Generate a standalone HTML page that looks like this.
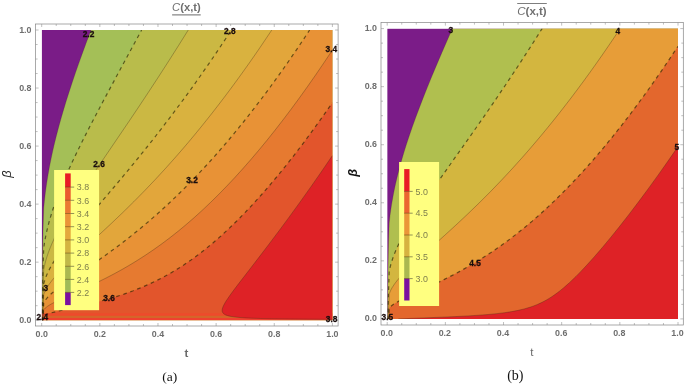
<!DOCTYPE html>
<html><head><meta charset="utf-8"><title>Contour plots</title>
<style>
html,body{margin:0;padding:0;background:#fff;}
body{width:685px;height:384px;overflow:hidden;font-family:"Liberation Sans",sans-serif;}
svg{display:block;font-family:"Liberation Sans",sans-serif;opacity:0.999;will-change:transform;}
.ser{font-family:"Liberation Serif",serif;}
</style></head><body>
<svg width="685" height="384" viewBox="0 0 685 384">
<rect width="685" height="384" fill="#fff"/>
<clipPath id="clipL"><rect x="41.70" y="30.00" width="290.70" height="290.20"/></clipPath>
<g clip-path="url(#clipL)">
<rect x="41.70" y="30.00" width="290.70" height="290.20" fill="#7a1c87"/>
<path d="M332.40,320.20 L41.70,320.20 L41.70,320.02 L41.90,320.00 L42.18,281.50 L42.62,249.50 L43.10,227.50 L43.70,208.21 L44.45,200.53 L45.45,192.03 L46.70,183.06 L47.95,175.23 L49.45,166.86 L50.95,159.27 L52.70,151.12 L54.45,143.56 L56.45,135.46 L58.70,126.88 L60.95,118.75 L63.45,110.14 L66.20,101.09 L68.95,92.38 L72.10,82.75 L75.45,72.87 L78.95,62.85 L82.70,52.40 L86.70,41.53 L91.04,30.00 L332.40,30.00 L332.40,320.20 Z" fill="#a4bf57"/>
<path d="M332.40,320.20 L41.70,320.20 L41.70,320.04 L42.13,320.00 L42.39,299.50 L42.74,280.75 L43.17,263.75 L43.70,248.21 L44.45,243.14 L45.20,238.82 L46.20,233.79 L47.45,228.29 L48.95,222.44 L50.45,217.15 L52.20,211.49 L53.95,206.22 L56.20,199.89 L58.95,192.65 L61.70,185.82 L64.95,178.15 L68.45,170.26 L72.20,162.12 L76.45,153.21 L80.95,144.05 L85.45,135.10 L90.45,125.35 L102.20,102.99 L115.70,77.85 L141.65,30.00 L332.40,30.00 L332.40,320.20 Z" fill="#b9bc4b"/>
<path d="M332.40,320.20 L41.70,320.20 L41.70,320.07 L42.36,320.00 L42.91,293.25 L43.28,281.00 L43.70,269.58 L44.70,264.87 L45.70,260.98 L46.95,256.78 L48.45,252.37 L50.20,247.78 L52.20,243.02 L54.45,238.09 L56.70,233.50 L60.95,225.44 L66.20,216.21 L72.20,206.30 L79.45,194.88 L85.45,185.71 L92.70,174.84 L128.72,121.75 L138.80,106.75 L148.09,92.75 L158.41,77.00 L168.57,61.25 L178.41,45.75 L188.25,30.00 L332.40,30.00 L332.40,320.20 Z" fill="#cbb843"/>
<path d="M332.40,320.20 L41.70,320.20 L41.70,320.09 L42.59,320.00 L43.07,301.00 L43.70,283.85 L44.45,281.20 L45.45,278.23 L46.70,275.06 L47.95,272.27 L49.45,269.24 L51.20,266.02 L53.20,262.63 L55.45,259.07 L58.95,253.91 L62.95,248.39 L67.70,242.19 L72.95,235.62 L83.20,223.27 L113.47,187.75 L129.79,168.25 L138.60,157.50 L147.25,146.75 L155.54,136.25 L163.69,125.75 L172.43,114.25 L181.00,102.75 L189.58,91.00 L197.98,79.25 L206.39,67.25 L214.80,55.00 L223.21,42.50 L231.46,30.00 L332.40,30.00 L332.40,320.20 Z" fill="#d9b23f"/>
<path d="M332.40,320.20 L41.70,320.20 L41.70,320.11 L42.81,320.00 L43.22,306.75 L43.70,294.42 L44.45,292.51 L45.20,290.87 L46.95,287.65 L49.20,284.19 L51.95,280.53 L54.95,276.94 L58.45,273.08 L62.70,268.69 L67.45,264.02 L76.70,255.32 L98.90,235.00 L110.47,224.25 L122.54,212.75 L133.74,201.75 L144.57,190.75 L155.06,179.75 L165.66,168.25 L175.92,156.75 L182.01,149.75 L188.19,142.50 L194.25,135.25 L200.20,128.00 L206.24,120.50 L212.18,113.00 L218.20,105.25 L224.12,97.50 L230.12,89.50 L236.20,81.25 L242.17,73.00 L248.05,64.75 L254.00,56.25 L259.95,47.61 L271.80,30.00 L332.40,30.00 L332.40,320.20 Z" fill="#e2a63b"/>
<path d="M332.40,320.20 L41.70,320.20 L41.70,320.13 L43.04,320.00 L43.70,302.75 L44.70,301.05 L46.20,299.00 L47.95,296.98 L50.20,294.73 L52.70,292.49 L55.70,290.02 L59.20,287.32 L63.20,284.40 L70.70,279.16 L87.87,267.50 L96.23,261.75 L104.75,255.75 L112.69,250.00 L119.74,244.75 L126.58,239.50 L133.23,234.25 L140.00,228.75 L148.33,221.75 L156.37,214.75 L164.40,207.50 L172.43,200.00 L180.44,192.25 L188.45,184.25 L196.43,176.00 L204.40,167.50 L211.01,160.25 L217.68,152.75 L224.18,145.25 L230.74,137.50 L237.36,129.50 L243.83,121.50 L250.36,113.25 L256.95,104.73 L263.57,96.00 L270.06,87.25 L276.60,78.25 L283.20,68.98 L289.82,59.50 L296.45,49.82 L303.05,40.00 L309.65,30.00 L332.40,30.00 L332.40,320.20 Z" fill="#e89236"/>
<path d="M332.40,320.20 L41.70,320.20 L41.70,320.16 L42.70,320.11 L43.27,320.00 L43.70,309.61 L45.20,308.11 L47.45,306.38 L49.45,305.08 L51.95,303.63 L54.70,302.17 L58.20,300.43 L64.70,297.38 L81.06,290.00 L89.75,286.00 L98.12,282.00 L106.14,278.00 L114.27,273.75 L122.00,269.50 L129.36,265.25 L136.78,260.75 L145.38,255.25 L153.70,249.62 L161.92,243.75 L170.20,237.52 L178.44,231.00 L186.56,224.25 L194.61,217.25 L202.70,209.89 L210.70,202.30 L218.60,194.50 L226.64,186.25 L234.63,177.75 L242.70,168.86 L250.69,159.75 L258.76,150.25 L266.80,140.50 L274.95,130.30 L283.14,119.75 L291.26,109.00 L299.45,97.86 L307.70,86.34 L315.95,74.51 L324.20,62.39 L332.40,50.05 L332.40,320.20 Z" fill="#e67a30"/>
<path d="M332.40,320.20 L41.70,320.18 L42.95,320.14 L43.49,320.00 L43.70,315.42 L45.20,314.73 L47.20,314.01 L50.95,312.92 L56.20,311.61 L78.45,306.62 L88.56,304.25 L97.20,302.08 L105.20,299.92 L114.70,297.11 L123.95,294.10 L132.70,290.95 L141.20,287.58 L148.70,284.33 L155.95,280.90 L162.95,277.32 L169.95,273.46 L176.95,269.30 L183.70,264.99 L190.66,260.25 L197.45,255.32 L205.29,249.25 L213.18,242.75 L220.95,235.95 L228.95,228.57 L237.00,220.75 L245.20,212.39 L253.45,203.61 L261.88,194.25 L270.45,184.37 L279.12,174.00 L287.80,163.25 L296.59,152.00 L305.45,140.31 L314.45,128.08 L323.45,115.50 L332.40,102.64 L332.40,320.20 Z" fill="#e2552c"/>
<rect x="41.7" y="313.3" width="291" height="2.5" fill="#ee4a2c"/>
<rect x="41.7" y="315.8" width="291" height="2.3" fill="#d4652a"/>
<rect x="41.7" y="318.1" width="291" height="2.2" fill="#f04030"/>
<path d="M332.40,319.36 L296.20,319.10 L270.70,318.74 L260.70,318.51 L252.70,318.24 L245.70,317.91 L239.95,317.52 L235.20,317.06 L231.45,316.52 L228.45,315.88 L226.20,315.17 L225.25,314.75 L224.36,314.25 L223.69,313.75 L223.18,313.25 L222.80,312.75 L222.42,312.00 L222.22,311.25 L222.15,310.50 L222.26,309.25 L222.57,308.00 L223.13,306.50 L223.96,304.75 L225.06,302.75 L226.45,300.50 L230.02,295.25 L233.49,290.50 L238.20,284.25 L258.95,257.33 L269.95,242.90 L279.70,229.92 L288.95,217.40 L300.20,201.88 L311.20,186.39 L321.95,170.93 L332.40,155.58 L332.40,319.36 Z" fill="#de2226"/>
<path d="M41.70,320.02 L41.90,320.00 L42.18,281.50 L42.62,249.50 L43.10,227.50 L43.70,208.21 L44.45,200.53 L45.45,192.03 L46.70,183.06 L47.95,175.23 L49.45,166.86 L50.95,159.27 L52.70,151.12 L54.45,143.56 L56.45,135.46 L58.70,126.88 L60.95,118.75 L63.45,110.14 L66.20,101.09 L68.95,92.38 L72.10,82.75 L75.45,72.87 L78.95,62.85 L82.70,52.40 L86.70,41.53 L91.04,30.00" fill="none" stroke="rgba(60,40,20,0.35)" stroke-width="0.6"/>
<path d="M41.70,320.04 L42.13,320.00 L42.39,299.50 L42.74,280.75 L43.17,263.75 L43.70,248.21 L44.45,243.14 L45.45,237.50 L46.45,232.64 L47.70,227.27 L49.20,221.53 L50.70,216.31 L52.45,210.71 L54.20,205.49 L56.70,198.54 L59.20,192.01 L61.95,185.22 L65.20,177.58 L68.70,169.71 L72.45,161.59 L76.70,152.69 L81.20,143.55 L85.70,134.61 L90.70,124.87 L102.45,102.52 L115.95,77.39 L141.65,30.00" fill="none" stroke="rgba(35,30,0,0.62)" stroke-width="1.2" stroke-dasharray="3.7 3.7" stroke-dashoffset="0"/>
<path d="M41.70,320.07 L42.36,320.00 L42.91,293.25 L43.28,281.00 L43.70,269.58 L44.70,264.87 L45.70,260.98 L46.95,256.78 L48.45,252.37 L50.20,247.78 L52.20,243.02 L54.45,238.09 L56.70,233.50 L60.95,225.44 L66.20,216.21 L72.20,206.30 L79.45,194.88 L85.45,185.71 L92.70,174.84 L128.72,121.75 L138.80,106.75 L148.09,92.75 L158.41,77.00 L168.57,61.25 L178.41,45.75 L188.25,30.00" fill="none" stroke="rgba(60,40,20,0.55)" stroke-width="0.6"/>
<path d="M41.70,320.09 L42.59,320.00 L43.07,301.00 L43.70,283.85 L44.45,281.20 L45.45,278.23 L46.70,275.06 L47.95,272.27 L49.45,269.24 L51.20,266.02 L53.20,262.63 L55.45,259.07 L58.95,253.91 L62.95,248.39 L67.70,242.19 L72.95,235.62 L83.20,223.27 L113.47,187.75 L129.79,168.25 L138.60,157.50 L147.25,146.75 L155.54,136.25 L163.69,125.75 L172.43,114.25 L181.00,102.75 L189.58,91.00 L197.98,79.25 L206.39,67.25 L214.80,55.00 L223.21,42.50 L231.46,30.00" fill="none" stroke="rgba(35,30,0,0.62)" stroke-width="1.2" stroke-dasharray="3.7 3.7" stroke-dashoffset="0"/>
<path d="M41.70,320.11 L42.81,320.00 L43.22,306.75 L43.70,294.42 L44.45,292.51 L45.20,290.87 L46.95,287.65 L49.20,284.19 L51.95,280.53 L54.95,276.94 L58.45,273.08 L62.70,268.69 L67.45,264.02 L76.70,255.32 L98.90,235.00 L110.47,224.25 L122.54,212.75 L133.74,201.75 L144.57,190.75 L155.06,179.75 L165.66,168.25 L175.92,156.75 L182.01,149.75 L188.19,142.50 L194.25,135.25 L200.20,128.00 L206.24,120.50 L212.18,113.00 L218.20,105.25 L224.12,97.50 L230.12,89.50 L236.20,81.25 L242.17,73.00 L248.05,64.75 L254.00,56.25 L259.95,47.61 L271.80,30.00" fill="none" stroke="rgba(60,40,20,0.55)" stroke-width="0.6"/>
<path d="M41.70,320.13 L43.04,320.00 L43.70,302.75 L44.70,301.05 L46.20,299.00 L47.95,296.98 L50.20,294.73 L52.70,292.49 L55.70,290.02 L59.20,287.32 L63.20,284.40 L70.70,279.16 L87.87,267.50 L96.23,261.75 L104.75,255.75 L112.69,250.00 L119.74,244.75 L126.58,239.50 L133.23,234.25 L140.00,228.75 L148.33,221.75 L156.37,214.75 L164.40,207.50 L172.43,200.00 L180.44,192.25 L188.45,184.25 L196.43,176.00 L204.40,167.50 L211.01,160.25 L217.68,152.75 L224.18,145.25 L230.74,137.50 L237.36,129.50 L243.83,121.50 L250.36,113.25 L256.95,104.73 L263.57,96.00 L270.06,87.25 L276.60,78.25 L283.20,68.98 L289.82,59.50 L296.45,49.82 L303.05,40.00 L309.65,30.00" fill="none" stroke="rgba(35,30,0,0.62)" stroke-width="1.2" stroke-dasharray="3.7 3.7" stroke-dashoffset="0"/>
<path d="M41.70,320.16 L42.70,320.11 L43.27,320.00 L43.70,309.61 L45.20,308.11 L47.45,306.38 L49.45,305.08 L51.95,303.63 L54.70,302.17 L58.20,300.43 L64.70,297.38 L81.06,290.00 L89.75,286.00 L98.12,282.00 L106.14,278.00 L114.27,273.75 L122.00,269.50 L129.36,265.25 L136.78,260.75 L145.38,255.25 L153.70,249.62 L161.92,243.75 L170.20,237.52 L178.44,231.00 L186.56,224.25 L194.61,217.25 L202.70,209.89 L210.70,202.30 L218.60,194.50 L226.64,186.25 L234.63,177.75 L242.70,168.86 L250.69,159.75 L258.76,150.25 L266.80,140.50 L274.95,130.30 L283.14,119.75 L291.26,109.00 L299.45,97.86 L307.70,86.34 L315.95,74.51 L324.20,62.39 L332.40,50.05" fill="none" stroke="rgba(60,40,20,0.55)" stroke-width="0.6"/>
<path d="M41.70,320.18 L42.95,320.14 L43.49,320.00 L43.70,315.42 L45.20,314.73 L47.20,314.01 L50.95,312.92 L56.20,311.61 L78.45,306.62 L88.56,304.25 L97.20,302.08 L105.20,299.92 L114.70,297.11 L123.95,294.10 L132.70,290.95 L141.20,287.58 L148.70,284.33 L155.95,280.90 L162.95,277.32 L169.95,273.46 L176.95,269.30 L183.70,264.99 L190.66,260.25 L197.45,255.32 L205.29,249.25 L213.18,242.75 L220.95,235.95 L228.95,228.57 L237.00,220.75 L245.20,212.39 L253.45,203.61 L261.88,194.25 L270.45,184.37 L279.12,174.00 L287.80,163.25 L296.59,152.00 L305.45,140.31 L314.45,128.08 L323.45,115.50 L332.40,102.64" fill="none" stroke="rgba(35,30,0,0.62)" stroke-width="1.2" stroke-dasharray="3.7 3.7" stroke-dashoffset="0"/>
<path d="M332.40,319.36 L296.20,319.10 L270.70,318.74 L260.70,318.51 L252.70,318.24 L245.70,317.91 L239.95,317.52 L235.20,317.06 L231.45,316.52 L228.45,315.88 L226.20,315.17 L225.25,314.75 L224.36,314.25 L223.69,313.75 L223.18,313.25 L222.80,312.75 L222.42,312.00 L222.22,311.25 L222.15,310.50 L222.26,309.25 L222.57,308.00 L223.13,306.50 L223.96,304.75 L225.06,302.75 L226.45,300.50 L230.02,295.25 L233.49,290.50 L238.20,284.25 L258.95,257.33 L269.95,242.90 L279.70,229.92 L288.95,217.40 L300.20,201.88 L311.20,186.39 L321.95,170.93 L332.40,155.58" fill="none" stroke="rgba(60,40,20,0.55)" stroke-width="0.6"/>
</g>
<rect x="54.10" y="170.00" width="45.00" height="140.20" fill="#ffff80"/>
<rect x="65.10" y="173.40" width="5.60" height="14.00" fill="#e81c26"/>
<rect x="65.10" y="187.10" width="5.60" height="13.50" fill="#ea5a2e"/>
<rect x="65.10" y="200.30" width="5.60" height="13.50" fill="#ea7a32"/>
<rect x="65.10" y="213.50" width="5.60" height="13.50" fill="#ea9438"/>
<rect x="65.10" y="226.70" width="5.60" height="13.50" fill="#e4a83c"/>
<rect x="65.10" y="239.90" width="5.60" height="13.50" fill="#d4b440"/>
<rect x="65.10" y="253.10" width="5.60" height="13.50" fill="#c0b848"/>
<rect x="65.10" y="266.30" width="5.60" height="13.40" fill="#aab850"/>
<rect x="65.10" y="279.40" width="5.60" height="13.30" fill="#9fbb58"/>
<rect x="65.10" y="292.40" width="5.60" height="12.70" fill="#7a10a0"/>
<line x1="65.10" y1="187.10" x2="70.70" y2="187.10" stroke="rgba(90,60,20,0.6)" stroke-width="0.8"/>
<line x1="70.70" y1="187.10" x2="74.20" y2="187.10" stroke="#77774a" stroke-width="0.8"/>
<text x="76.80" y="190.30" font-size="8.9" fill="#7e7e4c">3.8</text>
<line x1="65.10" y1="200.30" x2="70.70" y2="200.30" stroke="rgba(90,60,20,0.6)" stroke-width="0.8"/>
<line x1="70.70" y1="200.30" x2="74.20" y2="200.30" stroke="#77774a" stroke-width="0.8"/>
<text x="76.80" y="203.50" font-size="8.9" fill="#7e7e4c">3.6</text>
<line x1="65.10" y1="213.50" x2="70.70" y2="213.50" stroke="rgba(90,60,20,0.6)" stroke-width="0.8"/>
<line x1="70.70" y1="213.50" x2="74.20" y2="213.50" stroke="#77774a" stroke-width="0.8"/>
<text x="76.80" y="216.70" font-size="8.9" fill="#7e7e4c">3.4</text>
<line x1="65.10" y1="226.70" x2="70.70" y2="226.70" stroke="rgba(90,60,20,0.6)" stroke-width="0.8"/>
<line x1="70.70" y1="226.70" x2="74.20" y2="226.70" stroke="#77774a" stroke-width="0.8"/>
<text x="76.80" y="229.90" font-size="8.9" fill="#7e7e4c">3.2</text>
<line x1="65.10" y1="239.90" x2="70.70" y2="239.90" stroke="rgba(90,60,20,0.6)" stroke-width="0.8"/>
<line x1="70.70" y1="239.90" x2="74.20" y2="239.90" stroke="#77774a" stroke-width="0.8"/>
<text x="76.80" y="243.10" font-size="8.9" fill="#7e7e4c">3.0</text>
<line x1="65.10" y1="253.10" x2="70.70" y2="253.10" stroke="rgba(90,60,20,0.6)" stroke-width="0.8"/>
<line x1="70.70" y1="253.10" x2="74.20" y2="253.10" stroke="#77774a" stroke-width="0.8"/>
<text x="76.80" y="256.30" font-size="8.9" fill="#7e7e4c">2.8</text>
<line x1="65.10" y1="266.30" x2="70.70" y2="266.30" stroke="rgba(90,60,20,0.6)" stroke-width="0.8"/>
<line x1="70.70" y1="266.30" x2="74.20" y2="266.30" stroke="#77774a" stroke-width="0.8"/>
<text x="76.80" y="269.50" font-size="8.9" fill="#7e7e4c">2.6</text>
<line x1="65.10" y1="279.40" x2="70.70" y2="279.40" stroke="rgba(90,60,20,0.6)" stroke-width="0.8"/>
<line x1="70.70" y1="279.40" x2="74.20" y2="279.40" stroke="#77774a" stroke-width="0.8"/>
<text x="76.80" y="282.60" font-size="8.9" fill="#7e7e4c">2.4</text>
<line x1="65.10" y1="292.40" x2="70.70" y2="292.40" stroke="rgba(90,60,20,0.6)" stroke-width="0.8"/>
<line x1="70.70" y1="292.40" x2="74.20" y2="292.40" stroke="#77774a" stroke-width="0.8"/>
<text x="76.80" y="295.60" font-size="8.9" fill="#7e7e4c">2.2</text>
<rect x="35.60" y="24.00" width="302.50" height="302.00" fill="none" stroke="#858585" stroke-width="0.7"/>
<path d="M41.70,326.00 v-3.00 M41.70,24.00 v3.00 M35.60,320.20 h3.00 M338.10,320.20 h-3.00 M56.23,326.00 v-2.00 M56.23,24.00 v2.00 M35.60,305.69 h2.00 M338.10,305.69 h-2.00 M70.77,326.00 v-2.00 M70.77,24.00 v2.00 M35.60,291.18 h2.00 M338.10,291.18 h-2.00 M85.31,326.00 v-2.00 M85.31,24.00 v2.00 M35.60,276.67 h2.00 M338.10,276.67 h-2.00 M99.84,326.00 v-3.00 M99.84,24.00 v3.00 M35.60,262.16 h3.00 M338.10,262.16 h-3.00 M114.38,326.00 v-2.00 M114.38,24.00 v2.00 M35.60,247.65 h2.00 M338.10,247.65 h-2.00 M128.91,326.00 v-2.00 M128.91,24.00 v2.00 M35.60,233.14 h2.00 M338.10,233.14 h-2.00 M143.44,326.00 v-2.00 M143.44,24.00 v2.00 M35.60,218.63 h2.00 M338.10,218.63 h-2.00 M157.98,326.00 v-3.00 M157.98,24.00 v3.00 M35.60,204.12 h3.00 M338.10,204.12 h-3.00 M172.51,326.00 v-2.00 M172.51,24.00 v2.00 M35.60,189.61 h2.00 M338.10,189.61 h-2.00 M187.05,326.00 v-2.00 M187.05,24.00 v2.00 M35.60,175.10 h2.00 M338.10,175.10 h-2.00 M201.59,326.00 v-2.00 M201.59,24.00 v2.00 M35.60,160.59 h2.00 M338.10,160.59 h-2.00 M216.12,326.00 v-3.00 M216.12,24.00 v3.00 M35.60,146.08 h3.00 M338.10,146.08 h-3.00 M230.66,326.00 v-2.00 M230.66,24.00 v2.00 M35.60,131.57 h2.00 M338.10,131.57 h-2.00 M245.19,326.00 v-2.00 M245.19,24.00 v2.00 M35.60,117.06 h2.00 M338.10,117.06 h-2.00 M259.72,326.00 v-2.00 M259.72,24.00 v2.00 M35.60,102.55 h2.00 M338.10,102.55 h-2.00 M274.26,326.00 v-3.00 M274.26,24.00 v3.00 M35.60,88.04 h3.00 M338.10,88.04 h-3.00 M288.79,326.00 v-2.00 M288.79,24.00 v2.00 M35.60,73.53 h2.00 M338.10,73.53 h-2.00 M303.33,326.00 v-2.00 M303.33,24.00 v2.00 M35.60,59.02 h2.00 M338.10,59.02 h-2.00 M317.86,326.00 v-2.00 M317.86,24.00 v2.00 M35.60,44.51 h2.00 M338.10,44.51 h-2.00 M332.40,326.00 v-3.00 M332.40,24.00 v3.00 M35.60,30.00 h3.00 M338.10,30.00 h-3.00" stroke="#8a8a8a" stroke-width="0.55" fill="none"/>
<text x="41.70" y="337.20" text-anchor="middle" font-size="8.9" font-weight="bold" fill="#6e6e6e">0.0</text>
<text x="31.50" y="322.80" text-anchor="end" font-size="8.9" font-weight="bold" fill="#6e6e6e">0.0</text>
<text x="99.84" y="337.20" text-anchor="middle" font-size="8.9" font-weight="bold" fill="#6e6e6e">0.2</text>
<text x="31.50" y="264.76" text-anchor="end" font-size="8.9" font-weight="bold" fill="#6e6e6e">0.2</text>
<text x="157.98" y="337.20" text-anchor="middle" font-size="8.9" font-weight="bold" fill="#6e6e6e">0.4</text>
<text x="31.50" y="206.72" text-anchor="end" font-size="8.9" font-weight="bold" fill="#6e6e6e">0.4</text>
<text x="216.12" y="337.20" text-anchor="middle" font-size="8.9" font-weight="bold" fill="#6e6e6e">0.6</text>
<text x="31.50" y="148.68" text-anchor="end" font-size="8.9" font-weight="bold" fill="#6e6e6e">0.6</text>
<text x="274.26" y="337.20" text-anchor="middle" font-size="8.9" font-weight="bold" fill="#6e6e6e">0.8</text>
<text x="31.50" y="90.64" text-anchor="end" font-size="8.9" font-weight="bold" fill="#6e6e6e">0.8</text>
<text x="332.40" y="337.20" text-anchor="middle" font-size="8.9" font-weight="bold" fill="#6e6e6e">1.0</text>
<text x="31.50" y="32.60" text-anchor="end" font-size="8.9" font-weight="bold" fill="#6e6e6e">1.0</text>
<text transform="translate(88.50,36.80) scale(0.88,1)" text-anchor="middle" font-size="9.5" font-weight="bold" fill="#1a0d0d" stroke="#1a0d0d" stroke-width="0.3">2.2</text>
<text transform="translate(229.80,34.10) scale(0.88,1)" text-anchor="middle" font-size="9.5" font-weight="bold" fill="#1a0d0d" stroke="#1a0d0d" stroke-width="0.3">2.8</text>
<text transform="translate(331.40,52.30) scale(0.88,1)" text-anchor="middle" font-size="9.5" font-weight="bold" fill="#1a0d0d" stroke="#1a0d0d" stroke-width="0.3">3.4</text>
<text transform="translate(99.00,167.40) scale(0.88,1)" text-anchor="middle" font-size="9.5" font-weight="bold" fill="#1a0d0d" stroke="#1a0d0d" stroke-width="0.3">2.6</text>
<text transform="translate(192.00,182.90) scale(0.88,1)" text-anchor="middle" font-size="9.5" font-weight="bold" fill="#1a0d0d" stroke="#1a0d0d" stroke-width="0.3">3.2</text>
<text transform="translate(45.70,290.80) scale(0.88,1)" text-anchor="middle" font-size="9.5" font-weight="bold" fill="#1a0d0d" stroke="#1a0d0d" stroke-width="0.3">3</text>
<text transform="translate(109.00,301.20) scale(0.88,1)" text-anchor="middle" font-size="9.5" font-weight="bold" fill="#1a0d0d" stroke="#1a0d0d" stroke-width="0.3">3.6</text>
<text transform="translate(42.30,320.20) scale(0.88,1)" text-anchor="middle" font-size="9.5" font-weight="bold" fill="#1a0d0d" stroke="#1a0d0d" stroke-width="0.3">2.4</text>
<text transform="translate(331.60,322.00) scale(0.88,1)" text-anchor="middle" font-size="9.5" font-weight="bold" fill="#1a0d0d" stroke="#1a0d0d" stroke-width="0.3">3.8</text>
<text x="172.1" y="11.4" font-size="11.2" fill="#707070"><tspan font-style="italic">C</tspan><tspan font-weight="bold">(x,t)</tspan></text>
<rect x="172.1" y="14.4" width="28.6" height="1.0" fill="#6a6a6a"/>
<text transform="translate(11.2,177.8) rotate(-90)" font-size="13" font-style="italic" fill="#222">β</text>
<text x="186.5" y="356.5" text-anchor="middle" font-size="11.5" font-weight="bold" fill="#6a6a6a">t</text>
<text class="ser" x="169.8" y="381.3" text-anchor="middle" font-size="13.5" fill="#111">(a)</text>
<clipPath id="clipR"><rect x="387.20" y="28.60" width="290.80" height="290.30"/></clipPath>
<g clip-path="url(#clipR)">
<rect x="387.20" y="28.60" width="290.80" height="290.30" fill="#7b1c88"/>
<path d="M678.00,318.90 L387.20,318.90 L387.20,318.86 L387.47,318.85 L387.73,289.85 L388.09,264.60 L388.58,242.35 L389.20,222.69 L390.20,214.05 L390.95,208.63 L391.70,203.80 L393.45,193.99 L394.45,189.03 L395.70,183.28 L397.45,175.88 L399.45,168.09 L401.70,159.97 L403.95,152.36 L406.61,143.85 L409.45,135.26 L412.45,126.57 L415.70,117.54 L419.20,108.16 L422.95,98.44 L427.05,88.10 L431.45,77.31 L436.20,65.93 L441.20,54.18 L452.37,28.60 L678.00,28.60 L678.00,318.90 Z" fill="#b0bf4f"/>
<path d="M678.00,318.90 L387.20,318.90 L387.90,318.85 L388.45,293.60 L389.20,271.33 L390.20,266.88 L391.20,263.21 L392.45,259.26 L393.95,255.09 L395.70,250.75 L397.70,246.25 L399.95,241.59 L402.45,236.76 L406.45,229.59 L410.95,222.05 L416.20,213.72 L422.45,204.23 L428.95,194.68 L436.95,183.18 L465.52,142.85 L477.30,126.10 L486.86,112.35 L495.95,99.10 L507.93,81.35 L519.51,63.85 L530.85,46.35 L542.12,28.60 L678.00,28.60 L678.00,318.90 Z" fill="#d3b63f"/>
<path d="M678.00,318.90 L387.20,318.90 L388.32,318.85 L388.72,305.85 L389.20,293.76 L390.45,290.81 L391.20,289.34 L392.20,287.57 L394.45,284.13 L396.95,280.82 L399.95,277.26 L403.45,273.44 L407.70,269.12 L412.45,264.53 L421.45,256.21 L444.12,235.85 L455.63,225.35 L467.64,214.10 L479.27,202.85 L490.25,191.85 L501.11,180.60 L511.83,169.10 L522.41,157.35 L528.76,150.10 L534.98,142.85 L541.09,135.60 L547.28,128.10 L553.36,120.60 L559.51,112.85 L565.56,105.10 L571.69,97.10 L577.70,89.10 L583.80,80.85 L589.95,72.38 L595.95,63.97 L601.99,55.35 L608.03,46.60 L614.13,37.60 L620.14,28.60 L678.00,28.60 L678.00,318.90 Z" fill="#e79d38"/>
<path d="M678.00,318.90 L387.20,318.89 L388.75,318.85 L389.20,308.02 L389.95,307.19 L390.95,306.26 L393.20,304.53 L395.20,303.22 L397.70,301.75 L400.45,300.26 L403.95,298.48 L410.70,295.25 L426.74,287.85 L435.24,283.85 L443.96,279.60 L451.82,275.60 L459.79,271.35 L467.40,267.10 L475.07,262.60 L482.45,258.05 L490.95,252.53 L499.45,246.70 L507.70,240.74 L515.95,234.45 L524.20,227.85 L532.25,221.10 L540.50,213.85 L548.67,206.35 L556.51,198.85 L564.55,190.85 L572.54,182.60 L580.48,174.10 L588.45,165.26 L596.45,156.10 L604.48,146.60 L612.68,136.60 L620.84,126.35 L628.95,115.86 L637.04,105.10 L645.20,93.96 L653.45,82.40 L661.66,70.60 L669.80,58.60 L678.00,46.22 L678.00,318.90 Z" fill="#e3672d"/>
<path d="M678.00,318.90 L398.27,318.90 L443.20,317.13 L456.95,316.51 L468.45,315.89 L479.20,315.20 L488.45,314.47 L496.95,313.64 L504.45,312.72 L511.70,311.61 L518.20,310.36 L524.20,308.93 L529.70,307.32 L532.20,306.48 L534.95,305.46 L537.45,304.44 L539.95,303.34 L542.20,302.26 L544.70,300.96 L546.95,299.71 L549.45,298.22 L552.20,296.45 L554.95,294.56 L557.70,292.55 L560.70,290.21 L563.45,287.96 L566.45,285.37 L569.45,282.67 L572.70,279.62 L575.95,276.45 L579.45,272.92 L586.45,265.54 L594.20,256.95 L602.20,247.69 L610.95,237.17 L619.95,225.99 L629.20,214.15 L638.95,201.32 L648.70,188.15 L658.45,174.64 L668.20,160.81 L678.00,146.58 L678.00,318.90 Z" fill="#de2226"/>
<path d="M387.20,318.86 L387.47,318.85 L387.73,289.85 L388.09,264.60 L388.58,242.35 L389.20,222.69 L390.20,214.05 L390.95,208.63 L391.70,203.80 L393.45,193.99 L394.45,189.03 L395.70,183.28 L397.45,175.88 L399.45,168.09 L401.70,159.97 L403.95,152.36 L406.61,143.85 L409.45,135.26 L412.45,126.57 L415.70,117.54 L419.20,108.16 L422.95,98.44 L427.05,88.10 L431.45,77.31 L436.20,65.93 L441.20,54.18 L452.37,28.60" fill="none" stroke="rgba(60,40,20,0.35)" stroke-width="0.6"/>
<path d="M387.20,318.87 L387.90,318.85 L388.45,293.60 L389.20,271.33 L390.20,266.88 L391.20,263.21 L392.45,259.26 L393.95,255.09 L395.70,250.75 L397.70,246.25 L399.95,241.59 L402.45,236.76 L406.45,229.59 L410.95,222.05 L416.20,213.72 L422.45,204.23 L428.95,194.68 L436.95,183.18 L465.52,142.85 L477.30,126.10 L486.86,112.35 L495.95,99.10 L507.93,81.35 L519.51,63.85 L530.85,46.35 L542.12,28.60" fill="none" stroke="rgba(35,30,0,0.62)" stroke-width="1.2" stroke-dasharray="3.7 3.7" stroke-dashoffset="0"/>
<path d="M387.20,318.88 L388.32,318.85 L388.72,305.85 L389.20,293.76 L390.45,290.81 L391.20,289.34 L392.20,287.57 L394.45,284.13 L396.95,280.82 L399.95,277.26 L403.45,273.44 L407.70,269.12 L412.45,264.53 L421.45,256.21 L444.12,235.85 L455.63,225.35 L467.64,214.10 L479.27,202.85 L490.25,191.85 L501.11,180.60 L511.83,169.10 L522.41,157.35 L528.76,150.10 L534.98,142.85 L541.09,135.60 L547.28,128.10 L553.36,120.60 L559.51,112.85 L565.56,105.10 L571.69,97.10 L577.70,89.10 L583.80,80.85 L589.95,72.38 L595.95,63.97 L601.99,55.35 L608.03,46.60 L614.13,37.60 L620.14,28.60" fill="none" stroke="rgba(60,40,20,0.55)" stroke-width="0.6"/>
<path d="M387.20,318.89 L388.75,318.85 L389.20,308.02 L389.95,307.19 L390.95,306.26 L393.20,304.53 L395.20,303.22 L397.70,301.75 L400.45,300.26 L403.95,298.48 L410.70,295.25 L426.74,287.85 L435.24,283.85 L443.96,279.60 L451.82,275.60 L459.79,271.35 L467.40,267.10 L475.07,262.60 L482.45,258.05 L490.95,252.53 L499.45,246.70 L507.70,240.74 L515.95,234.45 L524.20,227.85 L532.25,221.10 L540.50,213.85 L548.67,206.35 L556.51,198.85 L564.55,190.85 L572.54,182.60 L580.48,174.10 L588.45,165.26 L596.45,156.10 L604.48,146.60 L612.68,136.60 L620.84,126.35 L628.95,115.86 L637.04,105.10 L645.20,93.96 L653.45,82.40 L661.66,70.60 L669.80,58.60 L678.00,46.22" fill="none" stroke="rgba(35,30,0,0.62)" stroke-width="1.2" stroke-dasharray="3.7 3.7" stroke-dashoffset="0"/>
<path d="M398.27,318.90 L443.20,317.13 L456.95,316.51 L468.45,315.89 L479.20,315.20 L488.45,314.47 L496.95,313.64 L504.45,312.72 L511.70,311.61 L518.20,310.36 L524.20,308.93 L529.70,307.32 L532.20,306.48 L534.95,305.46 L537.45,304.44 L539.95,303.34 L542.20,302.26 L544.70,300.96 L546.95,299.71 L549.45,298.22 L552.20,296.45 L554.95,294.56 L557.70,292.55 L560.70,290.21 L563.45,287.96 L566.45,285.37 L569.45,282.67 L572.70,279.62 L575.95,276.45 L579.45,272.92 L586.45,265.54 L594.20,256.95 L602.20,247.69 L610.95,237.17 L619.95,225.99 L629.20,214.15 L638.95,201.32 L648.70,188.15 L658.45,174.64 L668.20,160.81 L678.00,146.58" fill="none" stroke="rgba(60,40,20,0.55)" stroke-width="0.6"/>
</g>
<rect x="399.10" y="162.00" width="40.00" height="144.00" fill="#ffff80"/>
<rect x="404.20" y="169.10" width="5.30" height="22.60" fill="#e81c26"/>
<rect x="404.20" y="191.40" width="5.30" height="22.10" fill="#ea6530"/>
<rect x="404.20" y="213.20" width="5.30" height="22.10" fill="#ea9638"/>
<rect x="404.20" y="235.00" width="5.30" height="22.10" fill="#d6b240"/>
<rect x="404.20" y="256.80" width="5.30" height="22.10" fill="#aab850"/>
<rect x="404.20" y="278.60" width="5.30" height="21.90" fill="#7a10a0"/>
<line x1="404.20" y1="191.40" x2="409.50" y2="191.40" stroke="rgba(90,60,20,0.6)" stroke-width="0.8"/>
<line x1="409.50" y1="191.40" x2="412.70" y2="191.40" stroke="#77774a" stroke-width="0.8"/>
<text x="415.60" y="194.60" font-size="8.9" fill="#7e7e4c">5.0</text>
<line x1="404.20" y1="213.20" x2="409.50" y2="213.20" stroke="rgba(90,60,20,0.6)" stroke-width="0.8"/>
<line x1="409.50" y1="213.20" x2="412.70" y2="213.20" stroke="#77774a" stroke-width="0.8"/>
<text x="415.60" y="216.40" font-size="8.9" fill="#7e7e4c">4.5</text>
<line x1="404.20" y1="235.00" x2="409.50" y2="235.00" stroke="rgba(90,60,20,0.6)" stroke-width="0.8"/>
<line x1="409.50" y1="235.00" x2="412.70" y2="235.00" stroke="#77774a" stroke-width="0.8"/>
<text x="415.60" y="238.20" font-size="8.9" fill="#7e7e4c">4.0</text>
<line x1="404.20" y1="256.80" x2="409.50" y2="256.80" stroke="rgba(90,60,20,0.6)" stroke-width="0.8"/>
<line x1="409.50" y1="256.80" x2="412.70" y2="256.80" stroke="#77774a" stroke-width="0.8"/>
<text x="415.60" y="260.00" font-size="8.9" fill="#7e7e4c">3.5</text>
<line x1="404.20" y1="278.60" x2="409.50" y2="278.60" stroke="rgba(90,60,20,0.6)" stroke-width="0.8"/>
<line x1="409.50" y1="278.60" x2="412.70" y2="278.60" stroke="#77774a" stroke-width="0.8"/>
<text x="415.60" y="281.80" font-size="8.9" fill="#7e7e4c">3.0</text>
<rect x="381.00" y="22.60" width="302.30" height="302.40" fill="none" stroke="#858585" stroke-width="0.7"/>
<path d="M387.20,325.00 v-3.00 M387.20,22.60 v3.00 M381.00,318.90 h3.00 M683.30,318.90 h-3.00 M401.74,325.00 v-2.00 M401.74,22.60 v2.00 M381.00,304.38 h2.00 M683.30,304.38 h-2.00 M416.28,325.00 v-2.00 M416.28,22.60 v2.00 M381.00,289.87 h2.00 M683.30,289.87 h-2.00 M430.82,325.00 v-2.00 M430.82,22.60 v2.00 M381.00,275.35 h2.00 M683.30,275.35 h-2.00 M445.36,325.00 v-3.00 M445.36,22.60 v3.00 M381.00,260.84 h3.00 M683.30,260.84 h-3.00 M459.90,325.00 v-2.00 M459.90,22.60 v2.00 M381.00,246.32 h2.00 M683.30,246.32 h-2.00 M474.44,325.00 v-2.00 M474.44,22.60 v2.00 M381.00,231.81 h2.00 M683.30,231.81 h-2.00 M488.98,325.00 v-2.00 M488.98,22.60 v2.00 M381.00,217.30 h2.00 M683.30,217.30 h-2.00 M503.52,325.00 v-3.00 M503.52,22.60 v3.00 M381.00,202.78 h3.00 M683.30,202.78 h-3.00 M518.06,325.00 v-2.00 M518.06,22.60 v2.00 M381.00,188.26 h2.00 M683.30,188.26 h-2.00 M532.60,325.00 v-2.00 M532.60,22.60 v2.00 M381.00,173.75 h2.00 M683.30,173.75 h-2.00 M547.14,325.00 v-2.00 M547.14,22.60 v2.00 M381.00,159.23 h2.00 M683.30,159.23 h-2.00 M561.68,325.00 v-3.00 M561.68,22.60 v3.00 M381.00,144.72 h3.00 M683.30,144.72 h-3.00 M576.22,325.00 v-2.00 M576.22,22.60 v2.00 M381.00,130.21 h2.00 M683.30,130.21 h-2.00 M590.76,325.00 v-2.00 M590.76,22.60 v2.00 M381.00,115.69 h2.00 M683.30,115.69 h-2.00 M605.30,325.00 v-2.00 M605.30,22.60 v2.00 M381.00,101.18 h2.00 M683.30,101.18 h-2.00 M619.84,325.00 v-3.00 M619.84,22.60 v3.00 M381.00,86.66 h3.00 M683.30,86.66 h-3.00 M634.38,325.00 v-2.00 M634.38,22.60 v2.00 M381.00,72.15 h2.00 M683.30,72.15 h-2.00 M648.92,325.00 v-2.00 M648.92,22.60 v2.00 M381.00,57.63 h2.00 M683.30,57.63 h-2.00 M663.46,325.00 v-2.00 M663.46,22.60 v2.00 M381.00,43.12 h2.00 M683.30,43.12 h-2.00 M678.00,325.00 v-3.00 M678.00,22.60 v3.00 M381.00,28.60 h3.00 M683.30,28.60 h-3.00" stroke="#8a8a8a" stroke-width="0.55" fill="none"/>
<text x="386.70" y="336.30" text-anchor="middle" font-size="8.9" font-weight="bold" fill="#6e6e6e">0.0</text>
<text x="377.00" y="321.20" text-anchor="end" font-size="8.9" font-weight="bold" fill="#6e6e6e">0.0</text>
<text x="444.86" y="336.30" text-anchor="middle" font-size="8.9" font-weight="bold" fill="#6e6e6e">0.2</text>
<text x="377.00" y="263.14" text-anchor="end" font-size="8.9" font-weight="bold" fill="#6e6e6e">0.2</text>
<text x="503.02" y="336.30" text-anchor="middle" font-size="8.9" font-weight="bold" fill="#6e6e6e">0.4</text>
<text x="377.00" y="205.08" text-anchor="end" font-size="8.9" font-weight="bold" fill="#6e6e6e">0.4</text>
<text x="561.18" y="336.30" text-anchor="middle" font-size="8.9" font-weight="bold" fill="#6e6e6e">0.6</text>
<text x="377.00" y="147.02" text-anchor="end" font-size="8.9" font-weight="bold" fill="#6e6e6e">0.6</text>
<text x="619.34" y="336.30" text-anchor="middle" font-size="8.9" font-weight="bold" fill="#6e6e6e">0.8</text>
<text x="377.00" y="88.96" text-anchor="end" font-size="8.9" font-weight="bold" fill="#6e6e6e">0.8</text>
<text x="677.50" y="336.30" text-anchor="middle" font-size="8.9" font-weight="bold" fill="#6e6e6e">1.0</text>
<text x="377.00" y="30.90" text-anchor="end" font-size="8.9" font-weight="bold" fill="#6e6e6e">1.0</text>
<text transform="translate(450.80,33.40) scale(0.88,1)" text-anchor="middle" font-size="9.5" font-weight="bold" fill="#1a0d0d" stroke="#1a0d0d" stroke-width="0.3">3</text>
<text transform="translate(617.70,34.00) scale(0.88,1)" text-anchor="middle" font-size="9.5" font-weight="bold" fill="#1a0d0d" stroke="#1a0d0d" stroke-width="0.3">4</text>
<text transform="translate(676.70,149.90) scale(0.88,1)" text-anchor="middle" font-size="9.5" font-weight="bold" fill="#1a0d0d" stroke="#1a0d0d" stroke-width="0.3">5</text>
<text transform="translate(475.00,266.00) scale(0.88,1)" text-anchor="middle" font-size="9.5" font-weight="bold" fill="#1a0d0d" stroke="#1a0d0d" stroke-width="0.3">4.5</text>
<text transform="translate(387.30,319.80) scale(0.88,1)" text-anchor="middle" font-size="9.5" font-weight="bold" fill="#1a0d0d" stroke="#1a0d0d" stroke-width="0.3">3.5</text>
<text x="517.3" y="14.6" font-size="11.5" fill="#707070"><tspan font-style="italic">C</tspan><tspan font-weight="bold">(x,t)</tspan></text>
<rect x="517.2" y="3.1" width="29.6" height="0.9" fill="#707070"/>
<text transform="translate(356.6,176.8) rotate(-90)" font-size="12.6" font-style="italic" font-weight="bold" fill="#111">β</text>
<text x="531.8" y="355.8" text-anchor="middle" font-size="11.5" fill="#6a6a6a">t</text>
<text class="ser" x="515.3" y="380.0" text-anchor="middle" font-size="14" fill="#111">(b)</text>
</svg>
</body></html>
